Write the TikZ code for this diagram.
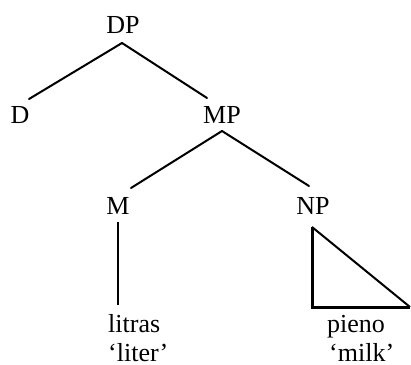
\documentclass[tikz,border=0pt]{standalone}
\usepackage{fontspec}
\setmainfont{Liberation Serif}
\begin{document}
\begin{tikzpicture}[x=1pt,y=-1pt,
  lab/.style={inner sep=0pt,anchor=base,font=\fontsize{26}{30}\selectfont},
  word/.style={inner sep=0pt,anchor=base west,font=\fontsize{26}{30}\selectfont},
  branch/.style={line width=2pt,line cap=round},
  stem/.style={line width=2.6pt},
  tri/.style={line width=3pt,line join=miter}]
\useasboundingbox (0,0) rectangle (411,364);
% labels
\node[lab] (DP) at (123,33) {DP};
\node[lab] (D)  at (20,123) {D};
\node[lab] (MP) at (222,123) {MP};
\node[lab] (M)  at (118,214) {M};
\node[lab] (NP) at (313,214) {NP};
\node[word] (litras) at (108,332) {litras};
\node[word] (liter)  at (108,361) {`liter'};
\node[word] (pieno)  at (327,332) {pieno};
\node[word] (milk)   at (329,361) {`milk'};
% branch end points
\coordinate (dpb) at (122,43);
\coordinate (dtop) at (29,99);
\coordinate (mptop) at (207,98);
\coordinate (mpb) at (222,131);
\coordinate (mtop) at (131,188);
\coordinate (nptop) at (309,186);
\coordinate (mb) at (118,222);
\coordinate (lt) at (118,305);
\coordinate (ta) at (312,227);
\coordinate (tb) at (312,307);
\coordinate (tc) at (410,307);
% connectors
\draw[branch] (dpb) -- (dtop);
\draw[branch] (dpb) -- (mptop);
\draw[branch] (mpb) -- (mtop);
\draw[branch] (mpb) -- (nptop);
\draw[stem] (mb) -- (lt);
\draw[tri] (ta) -- (tb) -- (tc);
\draw[line width=2pt] (tc) -- (ta);
\end{tikzpicture}
\end{document}
